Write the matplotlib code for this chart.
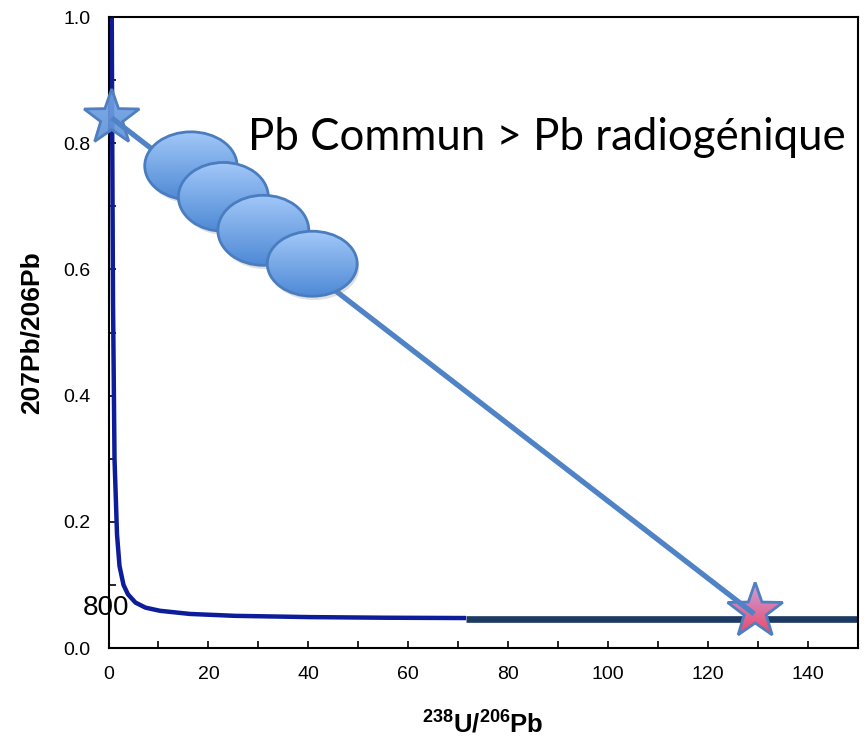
import numpy as np
import matplotlib
matplotlib.use("Agg")
import matplotlib.pyplot as plt
from matplotlib.patches import Ellipse, PathPatch
from matplotlib.path import Path
from matplotlib.transforms import Affine2D, ScaledTranslation
from matplotlib.ticker import MultipleLocator, FormatStrFormatter

plt.rcParams['font.family'] = ['Liberation Sans', 'DejaVu Sans']
plt.rcParams['mathtext.fontset'] = 'custom'
plt.rcParams['mathtext.bf'] = 'Liberation Sans:bold'
plt.rcParams['mathtext.rm'] = 'Liberation Sans'

# Concordia curve (238U/206Pb, 207Pb/206Pb)
conc_x = [0.65, 0.75, 0.9, 1.2, 1.7, 2.2, 3.0, 3.9, 5.4, 7.4, 10.3, 16.3, 25.3, 40.3, 55.3, 71.6]
conc_y = [1.0, 0.80, 0.55, 0.30, 0.18, 0.13, 0.10, 0.085, 0.072, 0.064, 0.059, 0.054, 0.051, 0.049, 0.048, 0.0475]

# thick dark segment at the young end
flat_x = [71.6, 150.0]
flat_y = [0.0465, 0.0465]

# mixing line between common Pb and radiogenic Pb
mix_x = [0.64, 129.3]
mix_y = [0.840, 0.054]

# star end-members
common_star = (0.64, 0.840)
radio_star = (129.5, 0.058)

# analyses (ellipses)
ell_x = [16.5, 23.0, 31.0, 40.8]
ell_y = [0.764, 0.715, 0.662, 0.609]
ell_w = [18.5, 18.0, 18.2, 18.0]
ell_h = [0.108, 0.109, 0.111, 0.103]

x_ticks = [0, 20, 40, 60, 80, 100, 120, 140]
y_ticks = [0.0, 0.2, 0.4, 0.6, 0.8, 1.0]

fig = plt.figure(figsize=(8.64, 7.4), dpi=100)
ax = fig.add_axes([0.1256, 0.1243, 0.8669, 0.8527])
ax.set_xlim(0, 150)
ax.set_ylim(0, 1.0)


def gradient(top, bottom, n=64):
    t = np.linspace(0, 1, n)[:, None, None]
    top = np.array(matplotlib.colors.to_rgb(top))[None, None, :]
    bottom = np.array(matplotlib.colors.to_rgb(bottom))[None, None, :]
    return top * (1 - t) + bottom * t


def star_path():
    ang = np.pi / 2 + np.arange(10) * np.pi / 5
    r = np.where(np.arange(10) % 2 == 0, 1.0, 0.40)
    verts = np.column_stack([r * np.cos(ang), r * np.sin(ang)])
    verts = np.vstack([verts, verts[:1]])
    codes = [Path.MOVETO] + [Path.LINETO] * 9 + [Path.CLOSEPOLY]
    return Path(verts, codes)


def draw_star(xy, radius_px, top, bottom, edge, z, alpha=1.0):
    tr = Affine2D().scale(radius_px) + ScaledTranslation(xy[0], xy[1], ax.transData)
    patch = PathPatch(star_path(), transform=tr, facecolor='none',
                      edgecolor=edge, lw=2.0, zorder=z + 0.5, clip_on=False)
    ax.add_patch(patch)
    clip = PathPatch(star_path(), transform=tr, facecolor='none', edgecolor='none')
    ax.add_patch(clip)
    dx = radius_px / 4.99 * 1.1
    dy = radius_px / 631 * 1.1
    im = ax.imshow(gradient(top, bottom), extent=(xy[0] - dx, xy[0] + dx, xy[1] - dy, xy[1] + dy),
                   origin='upper', aspect='auto', zorder=z, alpha=alpha, interpolation='bilinear')
    im.set_clip_path(clip)
    im.set_clip_box(fig.bbox)


# concordia
ax.plot(conc_x, conc_y, color='#0c1c9a', lw=3.2, zorder=2, solid_capstyle='butt')
ax.plot(flat_x, flat_y, color='#1d3a62', lw=4.8, zorder=2.1, solid_capstyle='butt')

# stars
draw_star(common_star, 29, '#74a6e8', '#5d8fd6', '#4f7fc0', 3, alpha=0.92)
draw_star(radio_star, 29, '#c6a8e8', '#f23a55', '#4f7fc0', 3)

# mixing line
ax.plot(mix_x, mix_y, color='#4f83c6', lw=3.8, zorder=4, solid_capstyle='butt')

# ellipses with gradient fill
for i in range(len(ell_x)):
    z = 5 + 2 * i
    shadow = Ellipse((ell_x[i] + 0.4, ell_y[i] - 0.006), ell_w[i], ell_h[i],
                     facecolor='#808080', edgecolor='none', alpha=0.25, zorder=z - 0.2)
    ax.add_patch(shadow)
    e = Ellipse((ell_x[i], ell_y[i]), ell_w[i], ell_h[i], facecolor='none',
                edgecolor='#4a7dbf', lw=2.0, zorder=z + 1)
    ax.add_patch(e)
    im = ax.imshow(gradient('#a2c8f8', '#4f8ad6'),
                   extent=(ell_x[i] - ell_w[i] / 2, ell_x[i] + ell_w[i] / 2,
                           ell_y[i] - ell_h[i] / 2, ell_y[i] + ell_h[i] / 2),
                   origin='upper', aspect='auto', zorder=z, interpolation='bilinear')
    im.set_clip_path(e)

ax.set_xlim(0, 150)
ax.set_ylim(0, 1.0)

# annotation text
txt = ax.text(28.0, 0.789, 'Pb Commun > Pb radiogénique', fontsize=40,
              family=['Lato', 'DejaVu Sans'], va='baseline', ha='left', zorder=20)
fig.canvas.draw()
w = txt.get_window_extent().width
txt.set_fontsize(40 * 597 / w)

ax.text(-0.6, 0.063, '800', fontsize=20, ha='center', va='center', clip_on=False, zorder=20)

# axes styling
ax.set_xticks(x_ticks)
ax.set_yticks(y_ticks)
ax.xaxis.set_minor_locator(MultipleLocator(10))
ax.yaxis.set_minor_locator(MultipleLocator(0.1))
ax.yaxis.set_major_formatter(FormatStrFormatter('%.1f'))
ax.tick_params(which='both', direction='in', length=5, width=1.2, labelsize=14, pad=13)
for s in ax.spines.values():
    s.set_linewidth(1.5)

ax.set_xlabel(r'$\mathbf{^{238}U/^{206}Pb}$', fontsize=18.5, labelpad=20)
ax.set_ylabel('207Pb/206Pb', fontsize=19, fontweight='bold', labelpad=14)

fig.savefig('out.png', dpi=100)
